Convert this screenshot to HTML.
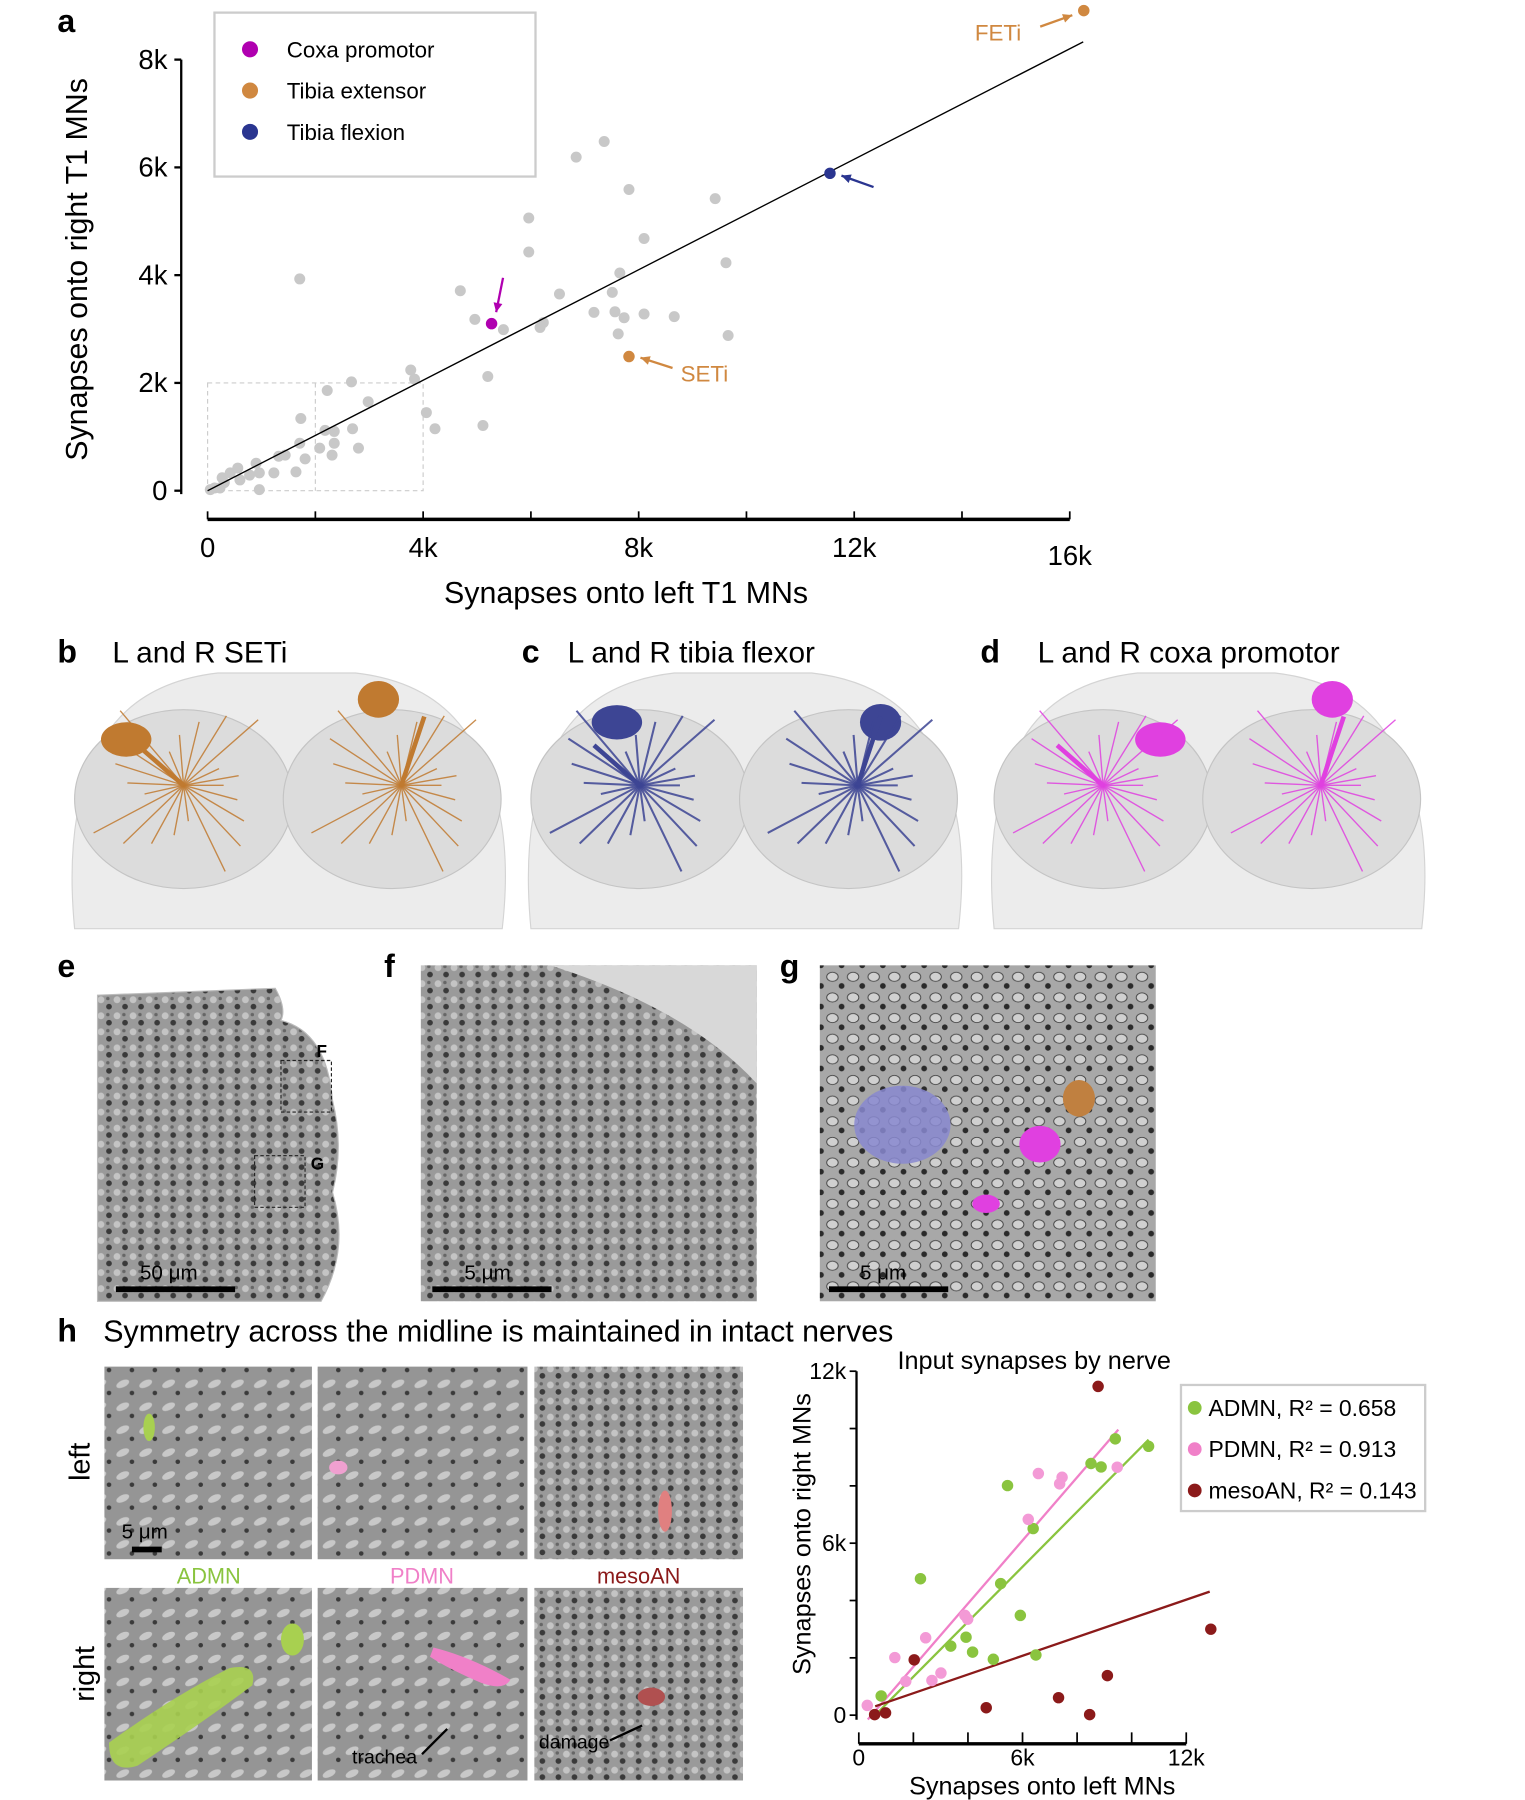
<!DOCTYPE html>
<html><head><meta charset="utf-8"><style>
html,body{margin:0;padding:0;background:#fff}
svg{display:block;font-family:"Liberation Sans",sans-serif}
</style></head><body>
<svg id="fig" width="1525" height="1800" viewBox="0 0 1330 1570" xmlns="http://www.w3.org/2000/svg">
<defs>
<pattern id="em" width="14" height="14" patternUnits="userSpaceOnUse">
<rect width="14" height="14" fill="#9a9a9a"/><circle cx="4" cy="4" r="3" fill="#c4c4c4"/><circle cx="11" cy="10" r="2.5" fill="#3a3a3a"/><circle cx="10" cy="3" r="1.5" fill="#666"/>
</pattern>
<pattern id="em2" width="18" height="18" patternUnits="userSpaceOnUse">
<rect width="18" height="18" fill="#a8a8a8"/><ellipse cx="6" cy="6" rx="5" ry="4" fill="#d0d0d0" stroke="#444" stroke-width="0.8"/><circle cx="14" cy="14" r="2.5" fill="#2a2a2a"/>
</pattern>
<pattern id="em3" width="20" height="20" patternUnits="userSpaceOnUse">
<rect width="20" height="20" fill="#959595"/><ellipse cx="7" cy="7" rx="6" ry="3" fill="#c8c8c8" transform="rotate(-25 7 7)"/><circle cx="15" cy="15" r="2" fill="#3a3a3a"/>
</pattern>
</defs>

<!-- Panel a -->
<text x="50" y="28" font-size="28" font-weight="bold">a</text>
<g id="chartA"></g>
<g>
<rect x="187" y="11" width="280" height="143" fill="#fff" stroke="#ccc" stroke-width="2"/>
<circle cx="218" cy="43" r="7" fill="#b000b0"/><text x="250" y="50" font-size="19.5">Coxa promotor</text>
<circle cx="218" cy="79" r="7" fill="#d08840"/><text x="250" y="86" font-size="19.5">Tibia extensor</text>
<circle cx="218" cy="115" r="7" fill="#2a3590"/><text x="250" y="122" font-size="19.5">Tibia flexion</text>
</g>

<!-- Panels b-d -->
<g>
<text x="50" y="578" font-size="28" font-weight="bold">b</text><text x="98" y="578" font-size="26">L and R SETi</text>
</g>
<g>
<text x="455" y="578" font-size="28" font-weight="bold">c</text><text x="495" y="578" font-size="26">L and R tibia flexor</text>
</g>
<g>
<text x="855" y="578" font-size="28" font-weight="bold">d</text><text x="905" y="578" font-size="26">L and R coxa promotor</text>
</g>
<g id="brains"></g>

<!-- Panels e-g -->
<g>
<text x="50" y="852" font-size="28" font-weight="bold">e</text>
<path d="M85 868 L240 862 Q250 880 245 890 Q285 900 290 960 Q300 1000 290 1040 Q305 1090 280 1135 L85 1135 Z" fill="url(#em)" stroke="#bbb"/>
<rect x="245" y="925" width="44" height="45" fill="none" stroke="#222" stroke-dasharray="3,2"/>
<rect x="222" y="1008" width="44" height="45" fill="none" stroke="#222" stroke-dasharray="3,2"/>
<text x="276" y="922" font-size="15" font-weight="bold">F</text><text x="271" y="1020" font-size="15" font-weight="bold">G</text>
<rect x="101" y="1122" width="104" height="5" fill="#000"/><text x="122" y="1116" font-size="18">50 μm</text>
</g>
<g>
<text x="335" y="852" font-size="28" font-weight="bold">f</text>
<rect x="367" y="842" width="293" height="293" fill="url(#em)"/>
<path d="M480 842 L660 842 L660 945 Q600 880 480 842Z" fill="#d8d8d8"/>
<rect x="377" y="1122" width="104" height="5" fill="#000"/><text x="405" y="1116" font-size="18">5 μm</text>
</g>
<g>
<text x="680" y="852" font-size="28" font-weight="bold">g</text>
<rect x="715" y="842" width="293" height="293" fill="url(#em2)"/>
<ellipse cx="787" cy="981" rx="42" ry="34" fill="#8888d0" opacity="0.85"/>
<ellipse cx="941" cy="958" rx="14" ry="16" fill="#c08040"/>
<ellipse cx="907" cy="998" rx="18" ry="16" fill="#e040e0"/>
<ellipse cx="860" cy="1050" rx="12" ry="8" fill="#e040e0"/>
<rect x="723" y="1122" width="104" height="5" fill="#000"/><text x="750" y="1116" font-size="18">5 μm</text>
</g>

<!-- Panel h -->
<g>
<text x="50" y="1170" font-size="28" font-weight="bold">h</text>
<text x="90" y="1170" font-size="26.5">Symmetry across the midline is maintained in intact nerves</text>
<rect x="91" y="1192" width="181" height="168" fill="url(#em3)"/>
<rect x="277" y="1192" width="183" height="168" fill="url(#em3)"/>
<rect x="466" y="1192" width="182" height="168" fill="url(#em)"/>
<rect x="91" y="1385" width="181" height="168" fill="url(#em3)"/>
<rect x="277" y="1385" width="183" height="168" fill="url(#em3)"/>
<rect x="466" y="1385" width="182" height="168" fill="url(#em)"/>
<path d="M95 1520 Q150 1480 200 1455 Q225 1450 220 1470 Q180 1500 120 1540 Q95 1548 95 1520Z" fill="#a8d050" opacity="0.9"/>
<ellipse cx="255" cy="1430" rx="10" ry="14" fill="#a8d050"/>
<ellipse cx="130" cy="1245" rx="5" ry="12" fill="#a8d050"/>
<path d="M378 1437 Q410 1445 445 1465 Q440 1475 420 1468 Q390 1455 375 1445Z" fill="#f080c8"/>
<ellipse cx="295" cy="1280" rx="8" ry="6" fill="#f0a0d0"/>
<ellipse cx="580" cy="1318" rx="6" ry="18" fill="#e08080"/>
<ellipse cx="568" cy="1480" rx="12" ry="8" fill="#b05050"/>
<text x="78" y="1275" font-size="25" transform="rotate(-90 78 1275)" text-anchor="middle">left</text>
<text x="82" y="1460" font-size="25" transform="rotate(-90 82 1460)" text-anchor="middle">right</text>
<text x="182" y="1381" font-size="19" text-anchor="middle" fill="#8ac43f">ADMN</text>
<text x="368" y="1381" font-size="19" text-anchor="middle" fill="#f080c8">PDMN</text>
<text x="557" y="1381" font-size="19" text-anchor="middle" fill="#8b1a1a">mesoAN</text>
<rect x="115" y="1349" width="26" height="5" fill="#000"/><text x="106" y="1342" font-size="18">5 μm</text>
<text x="307" y="1538" font-size="17">trachea</text><line x1="368" y1="1530" x2="390" y2="1508" stroke="#000" stroke-width="2"/>
<text x="470" y="1525" font-size="17">damage</text><line x1="532" y1="1518" x2="560" y2="1505" stroke="#000" stroke-width="2"/>
</g>
<g id="chartH"></g>
<g>
<rect x="1030" y="1208" width="213" height="110" fill="#fff" stroke="#ccc" stroke-width="2"/>
<circle cx="1042" cy="1228" r="6" fill="#8ac43f"/><text x="1054" y="1235" font-size="20">ADMN, R² = 0.658</text>
<circle cx="1042" cy="1264" r="6" fill="#f080c8"/><text x="1054" y="1271" font-size="20">PDMN, R² = 0.913</text>
<circle cx="1042" cy="1300" r="6" fill="#8b1a1a"/><text x="1054" y="1307" font-size="20">mesoAN, R² = 0.143</text>
</g>
</svg>
<script>
const NS="http://www.w3.org/2000/svg";
// ---- Panel a data (thousands of synapses) ----
const grayX=[1.71,6.84,7.36,7.82,9.42,5.96,5.96,8.10,9.62,7.65,4.69,6.53,7.51,4.96,5.49,6.23,6.17,7.17,7.56,7.73,8.10,8.66,7.62,9.66,5.20,3.77,3.84,4.06,4.22,5.11,2.67,2.22,2.98,1.73,2.69,2.18,2.35,1.71,2.08,2.35,2.31,2.80,1.81,1.32,1.44,1.64,0.90,1.23,0.96,0.78,0.56,0.42,0.60,0.31,0.23,0.05,0.13,0.96,0.27];
const grayY=[3.93,6.19,6.48,5.59,5.42,5.06,4.43,4.68,4.23,4.04,3.71,3.65,3.68,3.18,2.99,3.12,3.03,3.31,3.32,3.21,3.28,3.23,2.91,2.88,2.12,2.24,2.07,1.45,1.15,1.21,2.02,1.86,1.65,1.34,1.15,1.12,1.10,0.88,0.79,0.88,0.66,0.79,0.59,0.64,0.66,0.35,0.51,0.33,0.33,0.29,0.42,0.33,0.20,0.15,0.05,0.02,0.05,0.02,0.24];
const hiNames=["coxa-promotor","seti","tibia-flexion","feti"];
const hiX=[5.27,7.82,11.55,16.26];
const hiY=[3.10,2.49,5.89,8.91];
const hiColors=["#b000b0","#d08840","#2a3590","#d08840"];
const fitAX=[0,16.25];
const fitAY=[0,8.33];
const aXTicks=[0,4,8,12,16];
const aXTickLabels=["0","4k","8k","12k","16k"];
const aYTicks=[0,2,4,6,8];
const aYTickLabels=["0","2k","4k","6k","8k"];
// ---- Panel h data ----
const admnX=[0.82,2.26,5.45,6.39,5.2,5.92,3.37,3.93,4.17,4.93,6.49,8.51,8.88,9.40,10.62];
const admnY=[0.67,4.76,8.01,6.51,4.59,3.48,2.41,2.72,2.20,1.95,2.10,8.78,8.66,9.64,9.38];
const pdmnX=[0.31,1.32,1.72,2.45,2.68,3.01,3.89,3.99,6.21,6.58,7.36,7.45,9.47];
const pdmnY=[0.34,2.01,1.18,2.70,1.21,1.47,3.48,3.35,6.83,8.43,8.07,8.30,8.65];
const mesoX=[8.77,12.9,0.58,0.98,2.03,4.67,7.32,8.46,9.11];
const mesoY=[11.47,3.0,0.02,0.08,1.93,0.26,0.61,0.02,1.38];
const fitAdmnX=[0.54,10.62], fitAdmnY=[-0.06,9.61];
const fitPdmnX=[0.33,9.51], fitPdmnY=[-0.15,9.96];
const fitMesoX=[0.6,12.86], fitMesoY=[0.31,4.31];
const hXTicks=[0,6,12], hXTickLabels=["0","6k","12k"];
const hYTicks=[0,6,12], hYTickLabels=["0","6k","12k"];

function el(tag,attrs,parent){const e=document.createElementNS(NS,tag);for(const k in attrs)e.setAttribute(k,attrs[k]);parent.appendChild(e);return e;}

// Panel a axes
const ax=v=>181+v*47, ay=v=>428-v*47;
const A=document.getElementById('chartA');
let r=el('rect',{x:ax(0),y:ay(2),width:ax(4)-ax(0),height:ay(0)-ay(2),fill:'none',stroke:'#ccc','stroke-dasharray':'4,3'},A);


let dl=el('line',{x1:ax(2),y1:ay(2),x2:ax(2),y2:ay(0),stroke:'#ccc','stroke-dasharray':'4,3'},A);


let yl=el('line',{x1:158,y1:ay(8),x2:158,y2:ay(0)+3,stroke:'#000','stroke-width':2},A);


aYTicks.forEach((t,i)=>{el('line',{x1:152,y1:ay(t),x2:158,y2:ay(t),stroke:'#000','stroke-width':2},A);
 const tx=el('text',{x:146,y:ay(t)+8,'font-size':24,'text-anchor':'end'},A);tx.textContent=aYTickLabels[i];
 
 });
let xl=el('line',{x1:ax(0),y1:453,x2:ax(16),y2:453,stroke:'#000','stroke-width':3},A);


for(let t=0;t<=16;t+=2)el('line',{x1:ax(t),y1:446,x2:ax(t),y2:453,stroke:'#000','stroke-width':1.5},A);
aXTicks.forEach((t,i)=>{const tx=el('text',{x:ax(t),y:t==16?493:486,'font-size':24,'text-anchor':'middle'},A);tx.textContent=aXTickLabels[i];
 
 });
let xt=el('text',{x:546,y:526,'font-size':26.5,'text-anchor':'middle'},A);xt.textContent='Synapses onto left T1 MNs';


let yt=el('text',{x:76,y:235,'font-size':26.5,'text-anchor':'middle',transform:'rotate(-90 76 235)'},A);yt.textContent='Synapses onto right T1 MNs';


grayX.forEach((x,i)=>{const c=el('circle',{cx:ax(x),cy:ay(grayY[i]),r:4.8,fill:'#c8c8c8'},A);
 
 });
let fl=el('line',{x1:ax(fitAX[0]),y1:ay(fitAY[0]),x2:ax(fitAX[1]),y2:ay(fitAY[1]),stroke:'#000','stroke-width':1.2},A);


hiX.forEach((x,i)=>{const c=el('circle',{cx:ax(x),cy:ay(hiY[i]),r:5,fill:hiColors[i]},A);
 
 });
function arrow(x1,y1,x2,y2,col){el('line',{x1,y1,x2,y2,stroke:col,'stroke-width':2},A);
 const a=Math.atan2(y2-y1,x2-x1),L=9;
 el('polygon',{points:`${x2},${y2} ${x2-L*Math.cos(a-0.45)},${y2-L*Math.sin(a-0.45)} ${x2-L*Math.cos(a+0.45)},${y2-L*Math.sin(a+0.45)}`,fill:col},A);}
arrow(ax(hiX[3])-38,ay(hiY[3])+14,ax(hiX[3])-10,ay(hiY[3])+4,'#d08840');
arrow(ax(hiX[2])+38,ay(hiY[2])+12,ax(hiX[2])+10,ay(hiY[2])+2,'#2a3590');
arrow(ax(hiX[1])+38,ay(hiY[1])+10,ax(hiX[1])+10,ay(hiY[1])+1,'#d08840');
arrow(ax(hiX[0])+10,ay(hiY[0])-40,ax(hiX[0])+4,ay(hiY[0])-10,'#b000b0');
let l1=el('text',{x:ax(hiX[3])-95,y:ay(hiY[3])+26,'font-size':19.5,fill:'#d08840'},A);l1.textContent='FETi';


let l2=el('text',{x:ax(hiX[1])+45,y:ay(hiY[1])+22,'font-size':19.5,fill:'#d08840'},A);l2.textContent='SETi';



// Brains
const B=document.getElementById('brains');
const bcols=['#c07a30','#3d4594','#e040e0'];
[60,458,862].forEach((x0,k)=>{
 const g=el('g',{transform:`translate(${x0},585)`},B);
 
 
 el('path',{d:'M5 225 Q-5 120 30 60 Q60 10 130 2 L250 2 Q320 10 350 60 Q390 120 378 225 Z',fill:'#ececec',stroke:'#d4d4d4'},g);
 el('ellipse',{cx:100,cy:112,rx:95,ry:78,fill:'#dcdcdc',stroke:'#c4c4c4'},g);
 el('ellipse',{cx:282,cy:112,rx:95,ry:78,fill:'#dcdcdc',stroke:'#c4c4c4'},g);
 const c=bcols[k];
 el('ellipse',{cx:k==2?150:(k==1?80:50),cy:k==1?45:60,rx:22,ry:15,fill:c},g);
 el('ellipse',{cx:k==2?300:(k==1?310:270),cy:k==1?45:25,rx:18,ry:16,fill:c},g);
 for(let s=0;s<2;s++){const cx=s?290:100;
  for(let j=0;j<22;j++){const a=j*0.29, len=35+(j%5)*14;
   el('line',{x1:cx,y1:100,x2:cx+Math.cos(a)*len,y2:100+Math.sin(a)*len*0.9,stroke:c,'stroke-width':k==1?1.8:1.2,opacity:0.85},g);}
  el('path',{d:s?'M290 100 L310 40':'M100 100 L60 65',stroke:c,'stroke-width':4,fill:'none'},g);}
});

// Panel h chart
const hx=v=>749+v*23.8, hy=v=>1496-v*25;
const H=document.getElementById('chartH');
let t=el('text',{x:902,y:1194,'font-size':22,'text-anchor':'middle'},H);t.textContent='Input synapses by nerve';


let hyl=el('line',{x1:747,y1:hy(12),x2:747,y2:hy(0)+4,stroke:'#000','stroke-width':2},H);


for(let v=0;v<=12;v+=2)el('line',{x1:741,y1:hy(v),x2:747,y2:hy(v),stroke:'#000','stroke-width':1.5},H);
hYTicks.forEach((v,i)=>{const tx=el('text',{x:738,y:hy(v)+7,'font-size':20,'text-anchor':'end'},H);tx.textContent=hYTickLabels[i];
 
 });
let hxl=el('line',{x1:hx(0),y1:1521,x2:hx(12),y2:1521,stroke:'#000','stroke-width':3},H);


for(let v=0;v<=12;v+=2)el('line',{x1:hx(v),y1:1511,x2:hx(v),y2:1521,stroke:'#000','stroke-width':1.5},H);
hXTicks.forEach((v,i)=>{const tx=el('text',{x:hx(v),y:1540,'font-size':20,'text-anchor':'middle'},H);tx.textContent=hXTickLabels[i];
 
 });
let hxt=el('text',{x:909,y:1565,'font-size':22,'text-anchor':'middle'},H);hxt.textContent='Synapses onto left MNs';


let hyt=el('text',{x:707,y:1338,'font-size':22,'text-anchor':'middle',transform:'rotate(-90 707 1338)'},H);hyt.textContent='Synapses onto right MNs';


[[fitPdmnX,fitPdmnY,'#f080c8','pdmn-fit'],[fitAdmnX,fitAdmnY,'#8ac43f','admn-fit'],[fitMesoX,fitMesoY,'#8b1a1a','mesoan-fit']].forEach(f=>{
 const l=el('line',{x1:hx(f[0][0]),y1:hy(f[1][0]),x2:hx(f[0][1]),y2:hy(f[1][1]),stroke:f[2],'stroke-width':2},H);
 
 });
[[admnX,admnY,'#8ac43f','admn-point'],[pdmnX,pdmnY,'#f39ad6','pdmn-point'],[mesoX,mesoY,'#8b1a1a','mesoan-point']].forEach(s=>{
 s[0].forEach((x,i)=>{const c=el('circle',{cx:hx(x),cy:hy(s[1][i]),r:5,fill:s[2]},H);
  
  });});
</script>
</body></html>
